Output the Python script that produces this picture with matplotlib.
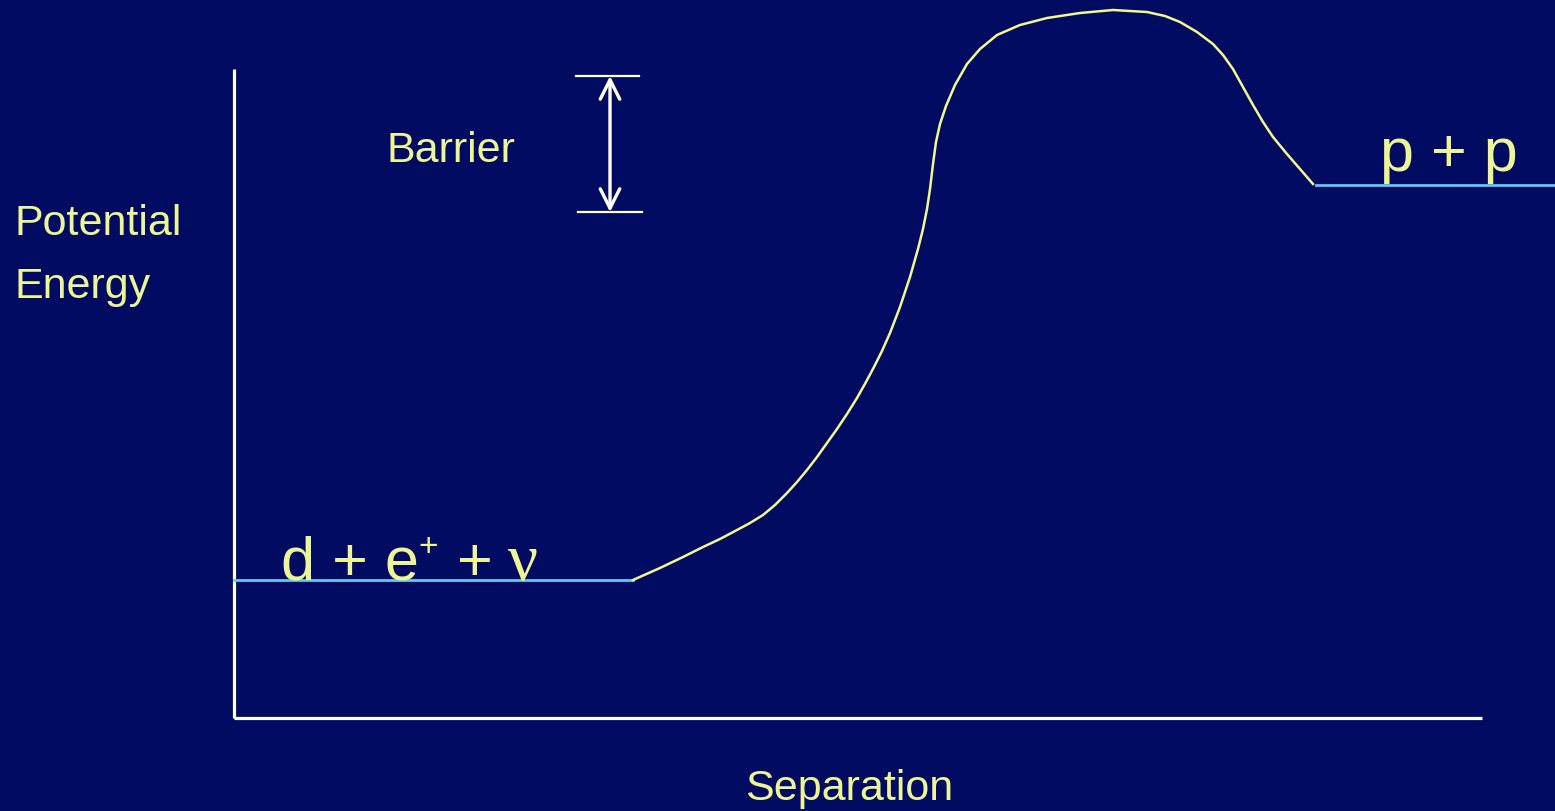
import matplotlib
matplotlib.use("Agg")
import matplotlib.pyplot as plt
from matplotlib.patches import FancyArrowPatch

# colours
fundo = '#010B62'
amarelo = '#EEF594'
curva_cor = '#F3F78C'
azul = '#66C6F2'
branco = '#FFFFFF'

# potential curve (separation, energy), screen units
curva_x = [633, 660, 683, 703, 720, 737, 750, 763, 775, 787, 797, 807, 817,
           827, 837, 847, 857, 866, 874, 882, 890, 900, 910, 918, 923, 927,
           930, 933, 936, 940, 946, 955, 967, 980, 997, 1020, 1047, 1080,
           1113, 1147, 1165, 1180, 1197, 1213, 1223, 1233, 1243, 1253, 1263,
           1273, 1287, 1300, 1313]
curva_y = [581, 569, 558, 548, 540, 531, 524, 516, 506, 494, 483, 471, 458,
           444, 430, 415, 399, 383, 368, 352, 334, 308, 278, 250, 230, 210,
           190, 165, 143, 125, 107, 86, 65, 50, 36, 26, 19, 14,
           11, 13, 17, 23, 33, 45, 56, 70, 88, 106, 123,
           138, 155, 170, 185]

# energy levels
nivel_baixo = 581
nivel_baixo_x = (234, 633)
nivel_alto = 186
nivel_alto_x = (1316, 1555)

# axes of the diagram
eixo_x0, eixo_y0 = 234, 719
eixo_topo = 70
eixo_direita = 1482

# barrier marker
barreira_x = 610
barreira_topo = 77
barreira_base = 213

fig = plt.figure(figsize=(15.55, 8.12), dpi=100)
fig.patch.set_facecolor(fundo)
ax = fig.add_axes([0, 0, 1, 1])
ax.set_facecolor(fundo)
ax.set_xlim(0, 1555)
ax.set_ylim(812, 0)
ax.axis('off')

fonte = 'Liberation Sans'

# eixos
ax.plot([eixo_x0, eixo_x0], [eixo_topo, eixo_y0], color=branco, lw=2.3,
        solid_capstyle='butt')
ax.plot([eixo_x0, eixo_direita], [eixo_y0, eixo_y0], color=branco, lw=2.3,
        solid_capstyle='butt')

# niveis
ax.plot(nivel_baixo_x, [nivel_baixo, nivel_baixo], color=azul, lw=2.0)
ax.plot(nivel_alto_x, [nivel_alto, nivel_alto], color=azul, lw=2.0)

# curva
ax.plot(curva_x, curva_y, color=curva_cor, lw=1.8, solid_joinstyle='round')

# barreira
ax.plot([576, 639], [barreira_topo, barreira_topo], color=branco, lw=1.6)
ax.plot([578, 642], [barreira_base, barreira_base], color=branco, lw=1.6)
seta = FancyArrowPatch((barreira_x, barreira_topo), (barreira_x, barreira_base),
                       arrowstyle='<->,head_length=1.4,head_width=0.7',
                       mutation_scale=10, color=branco, lw=2.4,
                       shrinkA=0, shrinkB=0, capstyle='round')
ax.add_patch(seta)

# textos
ax.text(387, 162, 'Barrier', color=amarelo, fontsize=31, family=fonte,
        ha='left', va='baseline')
ax.text(15, 235, 'Potential', color=amarelo, fontsize=31, family=fonte,
        ha='left', va='baseline')
ax.text(15, 298, 'Energy', color=amarelo, fontsize=31, family=fonte,
        ha='left', va='baseline')
ax.text(849, 800, 'Separation', color=amarelo, fontsize=31, family=fonte,
        ha='center', va='baseline')
ax.text(1380, 171, 'p + p', color=amarelo, fontsize=44, family=fonte,
        ha='left', va='baseline')

ax.text(281, 580, 'd + e', color=amarelo, fontsize=44, family=fonte,
        ha='left', va='baseline')
ax.text(418, 556, '+', color=amarelo, fontsize=24, family=fonte,
        ha='left', va='baseline')
ax.text(457, 580, '+', color=amarelo, fontsize=44, family=fonte,
        ha='left', va='baseline')
ax.text(508, 580, '\u03bd', color=amarelo, fontsize=48, family='Liberation Serif',
        ha='left', va='baseline')

plt.savefig('out.png', dpi=100, facecolor=fundo)
plt.close()
